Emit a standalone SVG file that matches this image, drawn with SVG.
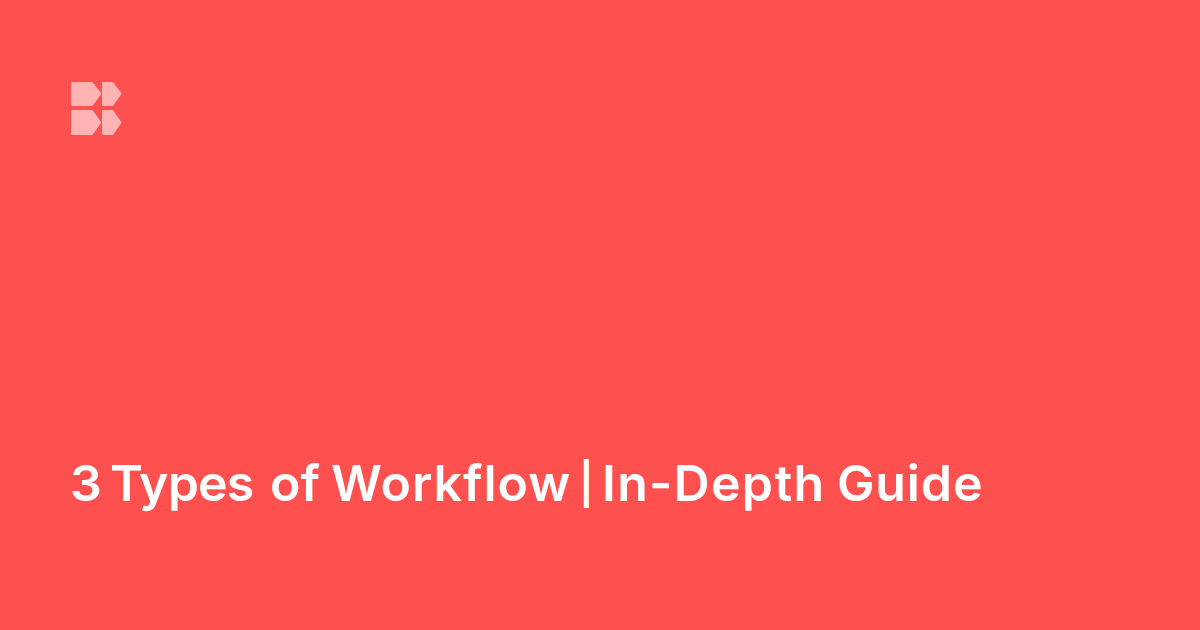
<svg xmlns="http://www.w3.org/2000/svg" width="1200" height="630" viewBox="0 0 1200 630">
<style>
.bg{fill:#ff5050}
.mark{fill:#ffb3b3;stroke:#ffb3b3;stroke-width:2;stroke-linejoin:round}
.title{font-family:Inter,"Liberation Sans",sans-serif;font-size:50px;font-weight:600;fill:#fff}
</style>
<rect class="bg" width="1200" height="630"/>
<g id="logo">
<path class="mark" d="M72 83H92L100.300 93.700L92 105H72Z"/>
<path class="mark" d="M103 83H112.500L120.500 93.700L112.500 105H103Z"/>
<path class="mark" d="M72 111H92L100.300 122.500L92 134H72Z"/>
<path class="mark" d="M103 111H112.500L120.500 122.500L112.500 134H103Z"/>
</g>
<text id="title" class="title" y="501"><tspan x="70">3</tspan> <tspan x="110" letter-spacing="-0.8">Types</tspan> <tspan x="270">of</tspan> <tspan x="331" letter-spacing="1">Workflow</tspan> <tspan x="579" font-size="41" dy="-3">|</tspan> <tspan x="602" dy="3" letter-spacing="1.3">In-Depth</tspan> <tspan x="837" letter-spacing="0.9">Guide</tspan></text>
</svg>
